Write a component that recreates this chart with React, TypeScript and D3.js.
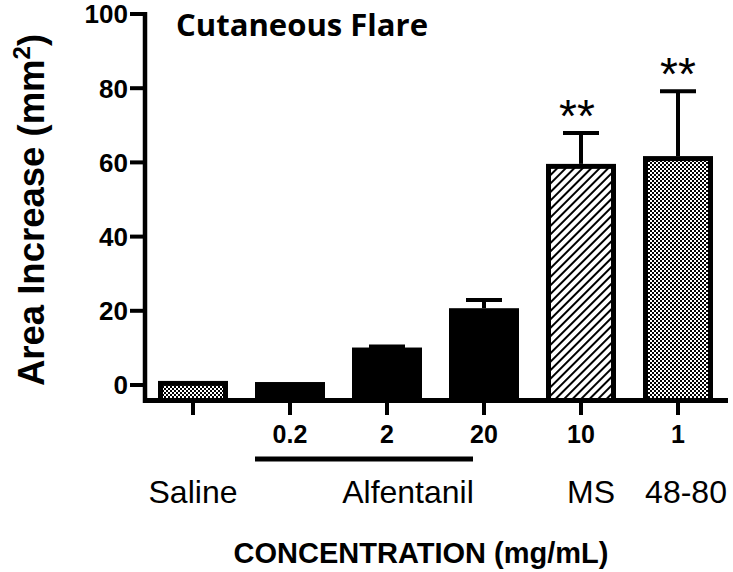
import React from "react";
import * as d3 from "d3";

const categories = ["Saline", "0.2", "2", "20", "10", "1"];
const values = [1.1, 0.8, 10.1, 20.7, 59.6, 61.7];
const errors = [0, 0, 0.3, 2.2, 8.3, 17.5];
const fills = ["checker", "solid", "solid", "solid", "hatch", "checker"];
const significance = ["", "", "", "", "**", "**"];
const yTicks = [0, 20, 40, 60, 80, 100];
const groupLabels = [
  { text: "Saline", at: "Saline", dx: 0 },
  { text: "Alfentanil", at: "2", dx: 21 },
  { text: "MS", at: "10", dx: 10 },
  { text: "48-80", at: "1", dx: 8 },
];
const title = "Cutaneous Flare";
const yLabel = "Area Increase (mm";
const xLabel = "CONCENTRATION (mg/mL)";

const W = 733;
const H = 572;
const axisX = 145;
const axisY = 400.5;
const barW = 70;

export default function App() {
  const x = d3.scalePoint<string>().domain(categories).range([193, 678]);
  const y = d3.scaleLinear().domain([0, 100]).range([385, 14]);
  const font = "'Liberation Sans', Arial, sans-serif";

  return (
    <svg
      width={W}
      height={H}
      style={{ position: "absolute", left: 0, top: 0, background: "#fff" }}
    >
      <defs>
        <pattern id="checker" patternUnits="userSpaceOnUse" width={4} height={4}>
          <rect width={4} height={4} fill="#fff" />
          <rect x={0} y={0} width={2} height={2} fill="#000" />
          <rect x={2} y={2} width={2} height={2} fill="#000" />
        </pattern>
        <pattern
          id="hatch"
          patternUnits="userSpaceOnUse"
          width={6}
          height={6}
          patternTransform="rotate(45)"
        >
          <rect width={6} height={6} fill="#fff" />
          <line x1={3} y1={0} x2={3} y2={6} stroke="#000" strokeWidth={2} />
        </pattern>
      </defs>
      <rect width={W} height={H} fill="#fff" />

      {/* bars */}
      {categories.map((c, i) => {
        const cx = x(c)!;
        const top = y(values[i]);
        const f = fills[i];
        if (f === "solid") {
          return (
            <rect
              key={c}
              x={cx - barW / 2}
              y={top}
              width={barW}
              height={axisY - top}
              fill="#000"
            />
          );
        }
        const sw = 5;
        return (
          <rect
            key={c}
            x={cx - barW / 2 + sw / 2}
            y={top + sw / 2}
            width={barW - sw}
            height={axisY - top - sw / 2}
            fill={`url(#${f})`}
            stroke="#000"
            strokeWidth={sw}
          />
        );
      })}

      {/* error bars */}
      {categories.map((c, i) => {
        if (!errors[i]) return null;
        const cx = x(c)!;
        const top = y(values[i]);
        const cap = y(values[i] + errors[i]);
        return (
          <g key={"e" + c} stroke="#000" strokeWidth={4}>
            <line x1={cx} x2={cx} y1={top} y2={cap} />
            <line x1={cx - 18} x2={cx + 18} y1={cap} y2={cap} />
          </g>
        );
      })}

      {/* significance */}
      {categories.map((c, i) =>
        significance[i] ? (
          <text
            key={"s" + c}
            x={x(c)! - (i === 4 ? 4 : 0)}
            y={y(values[i] + errors[i]) - 1}
            textAnchor="middle"
            fontFamily={font}
            fontSize={46}
            fill="#000"
          >
            {significance[i]}
          </text>
        ) : null
      )}

      {/* y axis */}
      <line x1={axisX} x2={axisX} y1={y(100) - 2} y2={axisY + 2.5} stroke="#000" strokeWidth={4.5} />
      {yTicks.map((t) => (
        <g key={"yt" + t}>
          <line x1={130} x2={axisX} y1={y(t)} y2={y(t)} stroke="#000" strokeWidth={4} />
          <text
            x={128}
            y={y(t)}
            dy="0.36em"
            textAnchor="end"
            fontFamily={font}
            fontWeight="bold"
            fontSize={26}
            fill="#000"
          >
            {t}
          </text>
        </g>
      ))}

      {/* x axis */}
      <line x1={axisX - 2} x2={728} y1={axisY} y2={axisY} stroke="#000" strokeWidth={5} />
      {categories.map((c) => (
        <line
          key={"xt" + c}
          x1={x(c)!}
          x2={x(c)!}
          y1={axisY}
          y2={415}
          stroke="#000"
          strokeWidth={4}
        />
      ))}
      {categories.map((c, i) =>
        i === 0 ? null : (
          <text
            key={"xl" + c}
            x={x(c)!}
            y={443}
            textAnchor="middle"
            fontFamily={font}
            fontWeight="bold"
            fontSize={25}
            fill="#000"
          >
            {c}
          </text>
        )
      )}
      <line
        x1={x("0.2")! - barW / 2}
        x2={x("20")! - 11}
        y1={459}
        y2={459}
        stroke="#000"
        strokeWidth={5}
      />
      {groupLabels.map((g) => (
        <text
          key={"g" + g.text}
          x={x(g.at)! + g.dx}
          y={503}
          textAnchor="middle"
          fontFamily={font}
          fontSize={32}
          fill="#000"
        >
          {g.text}
        </text>
      ))}

      <text
        x={421}
        y={563}
        textAnchor="middle"
        fontFamily={font}
        fontWeight="bold"
        fontSize={29}
        fill="#000"
      >
        {xLabel}
      </text>

      <text
        transform={`translate(44, ${210}) rotate(-90)`}
        textAnchor="middle"
        fontFamily={font}
        fontWeight="bold"
        fontSize={36.5}
        fill="#000"
      >
        {yLabel}
        <tspan fontSize={24} dy={-14}>2</tspan>
        <tspan dy={14}>)</tspan>
      </text>

      <text
        x={176}
        y={36}
        fontFamily="'Open Sans', Lato, sans-serif"
        fontWeight="bold"
        fontSize={31}
        textLength={252}
        lengthAdjust="spacingAndGlyphs"
        fill="#000"
      >
        {title}
      </text>
    </svg>
  );
}
